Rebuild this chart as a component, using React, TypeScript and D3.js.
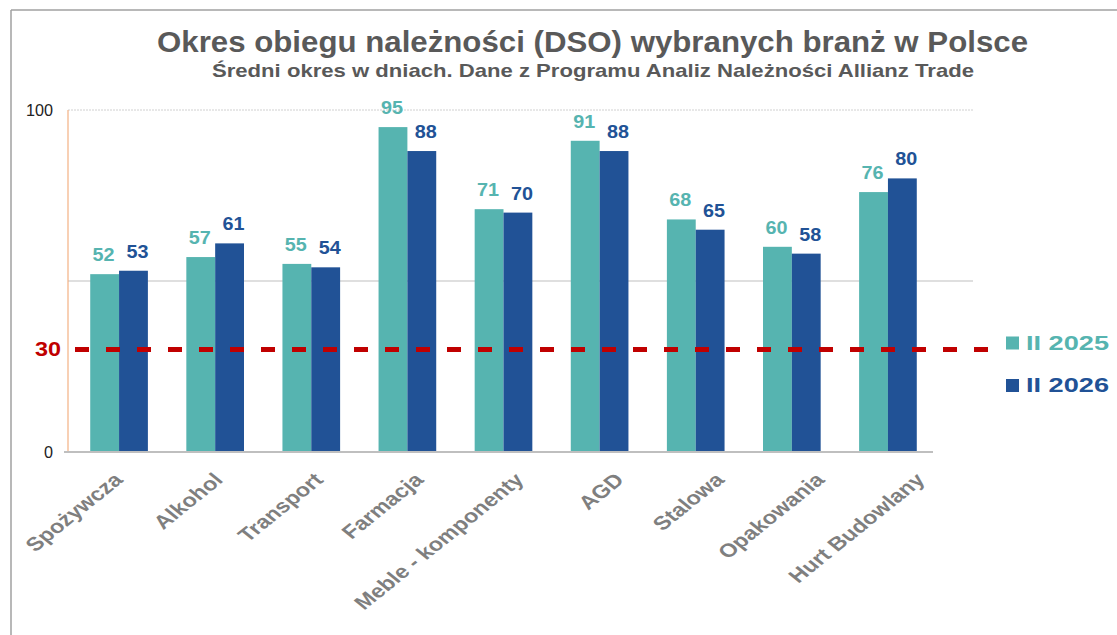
import React from "react";
import * as d3 from "d3";

const categories = ["Spożywcza", "Alkohol", "Transport", "Farmacja", "Meble - komponenty", "AGD", "Stalowa", "Opakowania", "Hurt Budowlany"];
const series2025 = [52, 57, 55, 95, 71, 91, 68, 60, 76];
const series2026 = [53, 61, 54, 88, 70, 88, 65, 58, 80];
const seriesNames = ["II 2025", "II 2026"];
const seriesColors = ["#56B4B0", "#215296"];
const yTicks = [0, 100];
const gridValues = [50];
const threshold = 30;

const W = 1117, H = 635;
const FONT = "'Liberation Sans', Arial, sans-serif";

export default function App() {
  const x0 = 68, xEnd = 933, yTop = 110, yBot = 452;
  const x = d3.scaleBand<string>().domain(categories).range([71, 936]).paddingInner(0.4).paddingOuter(0.2);
  const xl = d3.scalePoint<string>().domain(categories).range([124, 926]);
  const sub = d3.scaleBand<number>().domain([0, 1]).range([0, x.bandwidth()]);
  const y = d3.scaleLinear().domain([0, 100]).range([yBot, yTop]);
  const data = [series2025, series2026];

  return (
    <svg width={W} height={H} style={{ position: "absolute", left: 0, top: 0, background: "#fff" }} fontFamily={FONT}>
      <rect x={0} y={0} width={W} height={H} fill="#fff" />
      <line x1={11} y1={10} x2={W} y2={10} stroke="#a0a0a0" strokeWidth={1.5} />
      <line x1={11} y1={10} x2={11} y2={H} stroke="#a0a0a0" strokeWidth={1.5} />

      <text x={157} y={52} fontSize={29} fontWeight="bold" fill="#595959" textLength={871} lengthAdjust="spacingAndGlyphs">
        Okres obiegu należności (DSO) wybranych branż w Polsce
      </text>
      <text x={212} y={77} fontSize={19} fontWeight="bold" fill="#595959" textLength={762} lengthAdjust="spacingAndGlyphs">
        Średni okres w dniach. Dane z Programu Analiz Należności Allianz Trade
      </text>

      {/* gridlines */}
      <line x1={x0} x2={973} y1={y(100)} y2={y(100)} stroke="#d0d0d0" strokeDasharray="2 1" />
      {gridValues.map((g) => (
        <line key={g} x1={x0} x2={973} y1={y(g)} y2={y(g)} stroke="#bfbfbf" strokeWidth={1} />
      ))}
      <line x1={x0} x2={x0} y1={yTop} y2={yBot} stroke="#F4B183" strokeWidth={1.2} />

      {/* tick labels */}
      {yTicks.map((t) => (
        <text key={t} x={53} y={y(t) + 6} textAnchor="end" fontSize={16} fill="#222" textLength={t === 100 ? 27 : 9} lengthAdjust="spacingAndGlyphs">{t}</text>
      ))}
      <text x={61} y={y(threshold) + 7} textAnchor="end" fontSize={21} fontWeight="bold" fill="#C00000" textLength={26} lengthAdjust="spacingAndGlyphs">{threshold}</text>

      {/* bars */}
      {categories.map((c, i) => (
        <g key={c}>
          {data.map((s, k) => {
            const bx = (x(c) as number) + (sub(k) as number);
            return (
              <g key={k}>
                <rect x={bx} y={y(s[i])} width={sub.bandwidth()} height={yBot - y(s[i])} fill={seriesColors[k]} />
                <text x={bx + sub.bandwidth() / 2 + (k === 1 ? 4 : -1)} y={y(s[i]) - 13} textAnchor="middle" fontSize={19} fontWeight="bold" fill={seriesColors[k]} textLength={22} lengthAdjust="spacingAndGlyphs">
                  {s[i]}
                </text>
              </g>
            );
          })}
        </g>
      ))}

      <line x1={64} x2={xEnd} y1={yBot} y2={yBot} stroke="#bfbfbf" strokeWidth={2} />

      {/* threshold line */}
      <line x1={75} x2={1000} y1={y(threshold)} y2={y(threshold)} stroke="#C00000" strokeWidth={5} strokeDasharray="14 17" />

      {/* x labels */}
      {categories.map((c) => (
        <text key={c} transform={`translate(${xl(c)},${481}) scale(1.24,1) rotate(-45)`} textAnchor="end" fontSize={19} fontWeight="bold" fill="#7F7F7F">
          {c}
        </text>
      ))}

      {/* legend */}
      {seriesNames.map((n, k) => (
        <g key={n} transform={`translate(1006,${343 + k * 42.5})`}>
          <rect x={0} y={-6.5} width={13} height={13} fill={seriesColors[k]} />
          <text x={20} y={6.5} fontSize={20} fontWeight="bold" fill={seriesColors[k]} textLength={83} lengthAdjust="spacingAndGlyphs">{n}</text>
        </g>
      ))}
    </svg>
  );
}
